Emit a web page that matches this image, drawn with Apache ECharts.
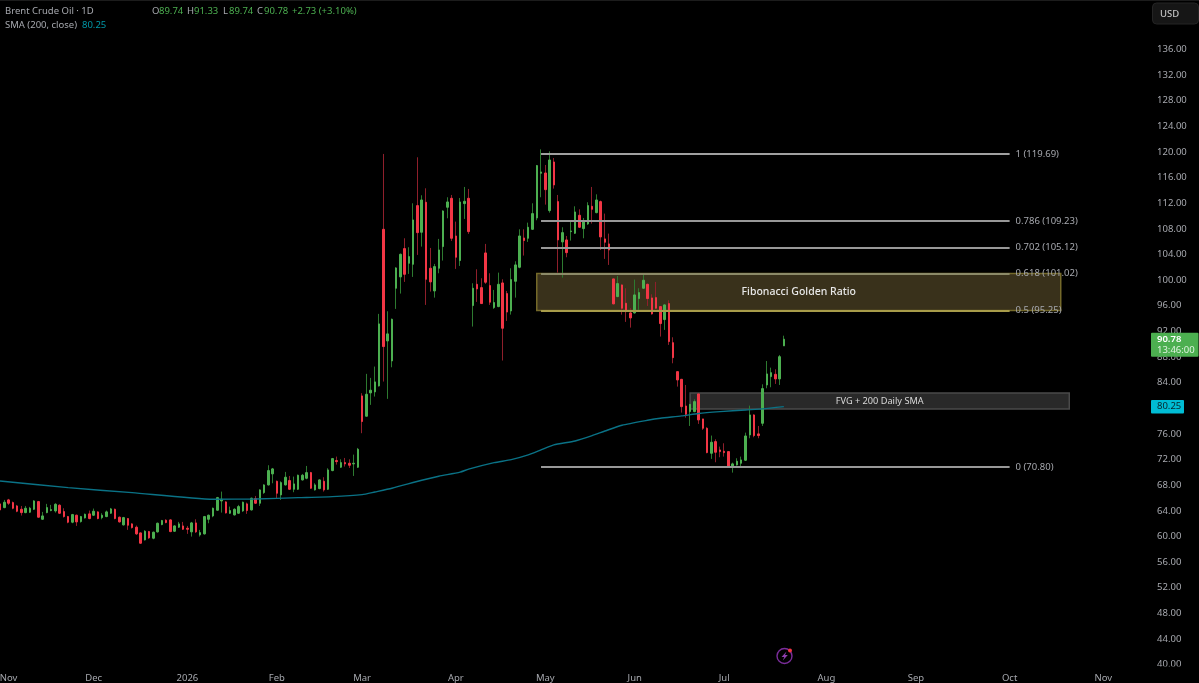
<!DOCTYPE html>
<html>
<head>
<meta charset="utf-8">
<title>Brent Crude Oil 1D</title>
<style>html,body{margin:0;padding:0;background:#000}#chart{width:1199px;height:683px}</style>
<script src="https://cdn.jsdelivr.net/npm/echarts@6/dist/echarts.min.js"></script>
</head>
<body>
<div id="chart"></div>
<script>
// Daily Brent sessions, oldest first
const opens = [65.08,64.50,65.70,65.28,64.76,64.24,63.72,63.78,64.24,65.44,62.68,63.72,64.04,63.98,64.87,63.88,63.10,62.22,63.31,62.32,62.89,63.52,63.31,63.83,62.94,63.10,63.62,64.24,63.00,61.80,62.79,61.96,61.44,60.55,59.46,60.76,59.72,60.71,61.85,62.53,62.58,60.81,61.44,61.64,61.28,60.71,62.11,60.24,60.40,62.68,63.20,64.09,65.54,65.39,63.62,63.36,63.62,63.98,65.08,64.14,65.91,65.18,66.84,68.04,69.76,68.61,66.48,68.04,68.72,67.36,67.36,68.82,69.08,69.96,67.26,67.47,68.61,67.36,70.28,71.84,70.80,71.52,71.42,71.32,70.80,81.93,78.76,82.40,82.56,83.49,107.93,90.51,87.39,98.73,100.50,104.92,102.63,102.47,111.63,107.47,112.15,101.85,98.31,101.85,105.23,111.37,112.77,106.89,103.05,111.94,112.77,96.03,99.35,98.83,104.24,99.15,95.71,95.87,99.56,97.90,95.19,99.82,102.01,106.58,106.53,107.93,109.70,116.67,116.72,110.85,118.44,112.25,105.96,106.27,107.57,107.31,110.12,108.04,108.77,111.52,110.53,112.25,106.43,105.65,100.19,97.43,99.25,96.39,94.88,94.88,97.12,98.73,99.35,97.22,97.27,95.87,93.84,96.34,90.24,85.72,84.52,80.36,79.48,79.48,82.24,78.34,76.88,72.98,74.80,73.50,73.29,73.24,70.90,71.16,71.42,71.89,75.84,78.96,76.00,77.66,83.64,84.94,85.30,84.58,89.74];
const highs = [65.28,65.70,65.86,65.44,64.92,64.76,64.76,64.61,65.65,65.54,63.83,65.08,64.92,65.18,65.02,64.40,63.20,63.52,63.41,63.20,63.57,64.04,64.35,63.93,63.62,64.04,64.45,64.35,63.10,63.05,62.84,62.06,61.70,60.60,60.97,60.86,60.76,62.16,62.58,62.68,62.68,61.75,62.27,62.27,61.64,62.27,62.68,61.02,63.20,63.41,64.50,66.17,67.00,65.49,64.66,64.40,64.92,65.44,65.28,66.06,66.32,67.36,68.14,71.11,70.69,68.72,68.61,70.07,69.44,69.34,69.65,69.76,71.00,70.07,68.30,68.92,69.24,70.64,72.25,72.46,72.04,72.25,72.04,72.77,73.81,82.35,85.37,84.74,86.51,94.73,119.69,95.14,94.00,102.01,104.14,106.53,105.13,111.99,119.17,113.24,114.33,105.02,102.53,106.43,110.90,112.93,113.29,109.13,112.82,114.54,114.23,99.51,101.69,100.29,105.65,101.07,98.47,101.17,100.13,98.31,101.85,102.94,107.93,107.93,108.97,111.99,117.97,120.41,117.97,120.10,119.06,113.29,108.25,106.89,109.23,111.52,111.05,109.70,112.15,114.54,113.39,112.41,110.38,107.26,100.19,100.65,99.35,98.73,95.61,100.08,98.73,101.07,99.46,97.79,99.72,95.97,96.23,96.86,91.08,85.72,84.58,83.64,80.62,81.40,82.24,78.34,77.04,75.74,75.16,74.02,74.54,73.24,71.52,72.20,72.46,76.20,80.42,79.06,77.24,83.74,87.38,86.34,86.08,88.32,91.33];
const lows = [63.98,64.40,64.92,64.24,63.78,63.26,63.62,63.67,64.14,62.94,62.58,63.62,63.93,63.72,63.52,62.94,62.06,62.06,61.64,62.16,62.79,62.68,63.20,62.68,62.68,63.00,63.52,62.68,62.16,61.70,61.02,61.23,60.24,58.84,59.36,59.62,59.56,60.60,61.75,62.06,60.66,60.71,61.33,61.02,60.40,59.98,60.55,59.98,60.29,62.06,63.00,63.98,63.72,63.57,63.52,63.26,63.52,63.83,63.52,64.04,65.08,64.76,66.64,67.94,68.30,65.86,65.70,67.94,67.26,66.90,67.26,68.72,68.92,67.42,67.16,67.36,67.00,67.26,70.17,71.21,70.69,70.90,70.69,69.44,70.69,76.11,78.71,80.53,81.83,83.39,84.17,81.47,86.40,95.51,97.90,99.72,100.97,100.50,103.93,105.23,96.13,98.21,97.27,101.07,103.05,109.65,106.11,101.75,102.21,109.55,107.21,92.75,96.60,96.29,99.41,96.13,95.51,95.77,87.45,93.63,94.62,97.27,101.85,103.83,105.96,107.83,109.34,112.93,111.78,110.53,114.28,101.17,100.39,103.57,106.17,107.21,108.14,106.53,108.61,108.82,110.43,104.71,103.31,102.37,96.23,97.33,94.62,93.48,92.59,94.78,95.25,98.63,95.97,94.62,95.51,91.19,92.23,89.89,87.02,83.38,79.32,78.54,77.24,79.38,77.56,76.62,72.98,72.10,71.58,72.36,72.46,70.85,69.96,71.06,70.90,71.78,75.32,75.48,75.32,77.24,83.12,83.28,83.80,83.64,89.74];
const closes = [64.14,65.34,65.18,64.40,63.93,63.72,64.40,64.40,65.54,63.00,63.20,64.50,64.19,65.02,63.62,63.10,62.22,63.41,62.27,63.10,63.46,62.79,63.93,62.79,63.31,63.83,64.30,62.79,62.27,62.94,61.75,61.38,60.40,58.94,60.81,59.77,60.66,62.06,62.48,62.16,60.76,61.64,61.96,61.12,61.12,62.11,60.71,60.60,63.10,63.31,64.40,66.06,65.80,63.67,64.04,64.24,64.66,65.34,64.04,65.96,65.18,67.26,68.04,70.28,70.54,66.74,68.40,69.24,67.36,68.20,69.55,69.55,69.96,67.52,68.04,68.82,67.26,70.38,72.15,71.68,71.52,71.32,71.11,71.42,73.60,77.93,82.19,82.82,84.12,93.17,89.63,91.61,93.89,101.90,104.03,100.91,103.67,109.39,107.41,112.51,100.13,99.72,102.11,104.71,110.79,112.20,106.53,103.57,112.20,112.30,107.57,98.73,98.63,96.34,99.67,96.55,96.50,99.35,92.49,95.02,100.08,102.37,106.89,106.17,108.25,110.38,117.87,116.88,114.12,118.75,114.85,106.27,107.41,104.29,107.67,110.64,108.25,109.29,111.63,111.05,112.51,106.74,105.91,104.71,96.29,99.46,95.61,95.09,94.10,97.69,98.05,99.98,97.12,94.73,95.61,93.22,96.13,90.41,87.90,84.42,80.26,79.06,80.62,81.04,78.18,76.88,73.08,74.70,73.14,73.24,73.08,70.90,71.32,71.73,71.94,75.68,78.96,75.74,75.74,83.07,85.36,85.56,84.58,88.05,90.78];

// 200-day simple moving average, read at these session numbers
const smaSessions = [0,16,31,50,60,70,78,85,88,92,99,103,108,110,116,120,124,127,130,135,139,142,146,152,155,160,164,169,175,179,184];
const smaValues = [68.66,67.62,66.83,65.80,65.85,66.05,66.21,66.52,66.94,67.52,68.77,69.39,70.03,70.50,71.51,71.98,72.72,73.50,74.28,74.90,75.73,76.45,77.35,78.13,78.45,78.81,79.19,79.47,79.74,79.90,80.25];

// Time axis: session slots, and where a month label falls
const sessionCount = 270;
const timeLabels = ['Nov','Dec','2026','Feb','Mar','Apr','May','Jun','Jul','Aug','Sep','Oct','Nov'];
const timeLabelSessions = [2,22,44,65,85,107,128,149,170,194,215,237,259];

// Fibonacci retracement drawn from the May high to the July low
const fibRatios = ['1','0.786','0.702','0.618','0.5','0'];
const fibPrices = [119.69,109.23,105.12,101.02,95.25,70.80];
const fibColors = ['#a0a0a0','#989898','#989898','#8c8a68','#a89c4a','#989898'];
const fibStartSession = 127, fibEndSession = 237;

// Highlighted zones
const goldenZone = {name:'Fibonacci Golden Ratio', fromSession:126, toSession:249, top:101.02, bottom:95.25};
const fvgZone = {name:'FVG + 200 Daily SMA', fromSession:162, toSession:251, top:82.39, bottom:79.89};

// Header quote
const quote = {open:'89.74', high:'91.33', low:'89.74', close:'90.78', change:'+2.73 (+3.10%)'};
const lastPrice = 90.78, countdown = '13:46:00', smaLast = 80.25;

const UI_FONT = '"Noto Sans", sans-serif';
const GREEN = '#4caf50', RED = '#f23645', TEAL = '#0a7286';
const categories = Array.from({length: sessionCount}, (_, i) => 'S' + i);

const chart = echarts.init(document.getElementById('chart'), null, {renderer: 'canvas'});

const wickData = opens.map((o, i) => [o, closes[i], lows[i], highs[i]]);
const bodyData = opens.map((o, i) => [o, closes[i], Math.min(o, closes[i]), Math.max(o, closes[i])]);

chart.setOption({
  backgroundColor: '#000',
  animation: false,
  grid: {left: -2.13, top: 23.8, width: 1150.2, height: 640.8, containLabel: false, outerBoundsMode: 'none'},
  xAxis: {
    type: 'category',
    data: categories,
    axisLine: {show: false},
    axisTick: {show: false},
    splitLine: {show: false},
    axisLabel: {
      color: '#a6a8ae',
      fontFamily: UI_FONT,
      fontSize: 9.5,
      margin: 9,
      interval: (index) => timeLabelSessions.includes(index),
      formatter: (value) => timeLabels[timeLabelSessions.indexOf(categories.indexOf(value))]
    }
  },
  yAxis: {
    type: 'value',
    position: 'right',
    min: 40,
    max: 140,
    interval: 4,
    scale: true,
    axisLine: {show: false},
    axisTick: {show: false},
    splitLine: {show: false},
    axisLabel: {
      color: '#a6a8ae',
      fontFamily: UI_FONT,
      fontSize: 9.5,
      margin: 9,
      padding: [2, 0, 0, 0],
      formatter: (v) => v >= 140 ? '' : v.toFixed(2)
    }
  },
  series: [
    {
      type: 'line',
      name: 'zones',
      z: 1,
      data: [],
      markArea: {
        silent: true,
        data: [
          [{
            coord: [goldenZone.fromSession, goldenZone.top],
            itemStyle: {color: '#39311b', borderColor: '#74692a', borderWidth: 1.5},
            label: {show: true, position: 'inside', formatter: goldenZone.name, color: '#e8e8e8', fontFamily: UI_FONT, fontSize: 10.5, fontWeight: 500, padding: [2, 0, 0, 0]}
          }, {coord: [goldenZone.toSession, goldenZone.bottom]}],
          [{
            coord: [fvgZone.fromSession, fvgZone.top],
            itemStyle: {color: '#292929', borderColor: '#4a4a4a', borderWidth: 1.5},
            label: {show: true, position: 'inside', formatter: fvgZone.name, color: '#d8d8d8', fontFamily: UI_FONT, fontSize: 9.2}
          }, {coord: [fvgZone.toSession, fvgZone.bottom]}]
        ]
      }
    },
    {
      type: 'line',
      name: 'fibonacci',
      z: 2,
      data: [],
      markLine: {
        silent: true,
        symbol: 'none',
        data: fibPrices.map((p, i) => [
          {
            coord: [fibStartSession, p],
            lineStyle: {color: fibColors[i], width: 1.8, type: 'solid'},
            label: {show: true, position: 'end', distance: 6, formatter: fibRatios[i] + ' (' + p.toFixed(2) + ')', color: '#a6a8ae', fontFamily: UI_FONT, fontSize: 9.5}
          },
          {coord: [fibEndSession, p]}
        ])
      }
    },
    {
      type: 'candlestick',
      name: 'wicks',
      z: 3,
      barWidth: 1,
      clip: true,
      itemStyle: {color: '#2d7a30', color0: '#8f1f2b', borderColor: '#2d7a30', borderColor0: '#8f1f2b', borderWidth: 1},
      data: wickData
    },
    {
      type: 'candlestick',
      name: 'Brent Crude Oil',
      z: 4,
      barWidth: 2,
      clip: true,
      itemStyle: {color: GREEN, color0: RED, borderColor: GREEN, borderColor0: RED, borderWidth: 1},
      data: bodyData
    },
    {
      type: 'line',
      name: 'SMA (200, close)',
      z: 5,
      showSymbol: false,
      symbol: 'none',
      smooth: 0.2,
      lineStyle: {color: TEAL, width: 1.4},
      data: smaSessions.map((s, i) => [s, smaValues[i]])
    }
  ]
});

// Chart chrome: header legend, price tags, currency button and the alert icon
const priceY = (v) => chart.convertToPixel({yAxisIndex: 0}, v);
const text = (x, y, s, fill, extra) => ({
  type: 'text', x, y, z: 50,
  style: Object.assign({text: s, fill, font: '9.5px ' + UI_FONT, verticalAlign: 'middle'}, extra || {})
});
const GRAY = '#a6a8ae';
chart.setOption({
  graphic: [
    {type: 'rect', z: 40, shape: {x: 0, y: 0, width: 1199, height: 1}, style: {fill: '#1c1c1c'}},
    {type: 'rect', z: 40, shape: {x: 1148, y: 666.5, width: 51, height: 17}, style: {fill: '#000'}},
    text(5, 11.5, 'Brent Crude Oil · 1D', GRAY),
    text(152, 11.5, 'O', GRAY), text(159, 11.5, quote.open, GREEN),
    text(187, 11.5, 'H', GRAY), text(194, 11.5, quote.high, GREEN),
    text(223, 11.5, 'L', GRAY), text(229, 11.5, quote.low, GREEN),
    text(257, 11.5, 'C', GRAY), text(264, 11.5, quote.close, GREEN),
    text(292, 11.5, quote.change, GREEN),
    text(5, 25, 'SMA (200, close)', GRAY),
    text(82, 25, smaLast.toFixed(2), '#0097a7'),
    {type: 'rect', z: 45, shape: {x: 1152.5, y: 3, width: 46, height: 21, r: 4}, style: {fill: '#161616', stroke: '#242424', lineWidth: 1}},
    text(1160, 14, 'USD', '#c4c4c4', {font: '500 9.5px ' + UI_FONT}),
    {type: 'rect', z: 45, shape: {x: 1151, y: priceY(lastPrice) - 6.5, width: 47.5, height: 24, r: 1}, style: {fill: GREEN}},
    text(1157, priceY(lastPrice), lastPrice.toFixed(2), '#ffffff', {font: '600 9.5px ' + UI_FONT}),
    text(1157, priceY(lastPrice) + 11.5, countdown, '#dff3e0'),
    {type: 'rect', z: 45, shape: {x: 1151, y: priceY(smaLast) - 6.7, width: 33, height: 13.4, r: 1}, style: {fill: '#00bcd4'}},
    text(1157, priceY(smaLast), smaLast.toFixed(2), '#07262c'),
    {type: 'circle', z: 45, shape: {cx: 784.5, cy: 656, r: 7.5}, style: {fill: 'none', stroke: '#7b2d9b', lineWidth: 1.4}},
    {type: 'polygon', z: 45, shape: {points: [[786.5, 651.5], [781.5, 657], [784.3, 657], [782.8, 660.5], [787.8, 655], [785, 655]]}, style: {fill: '#8e3fb0'}},
    {type: 'circle', z: 46, shape: {cx: 790, cy: 650.5, r: 2}, style: {fill: '#f23645'}}
  ]
});
</script>
</body>
</html>
